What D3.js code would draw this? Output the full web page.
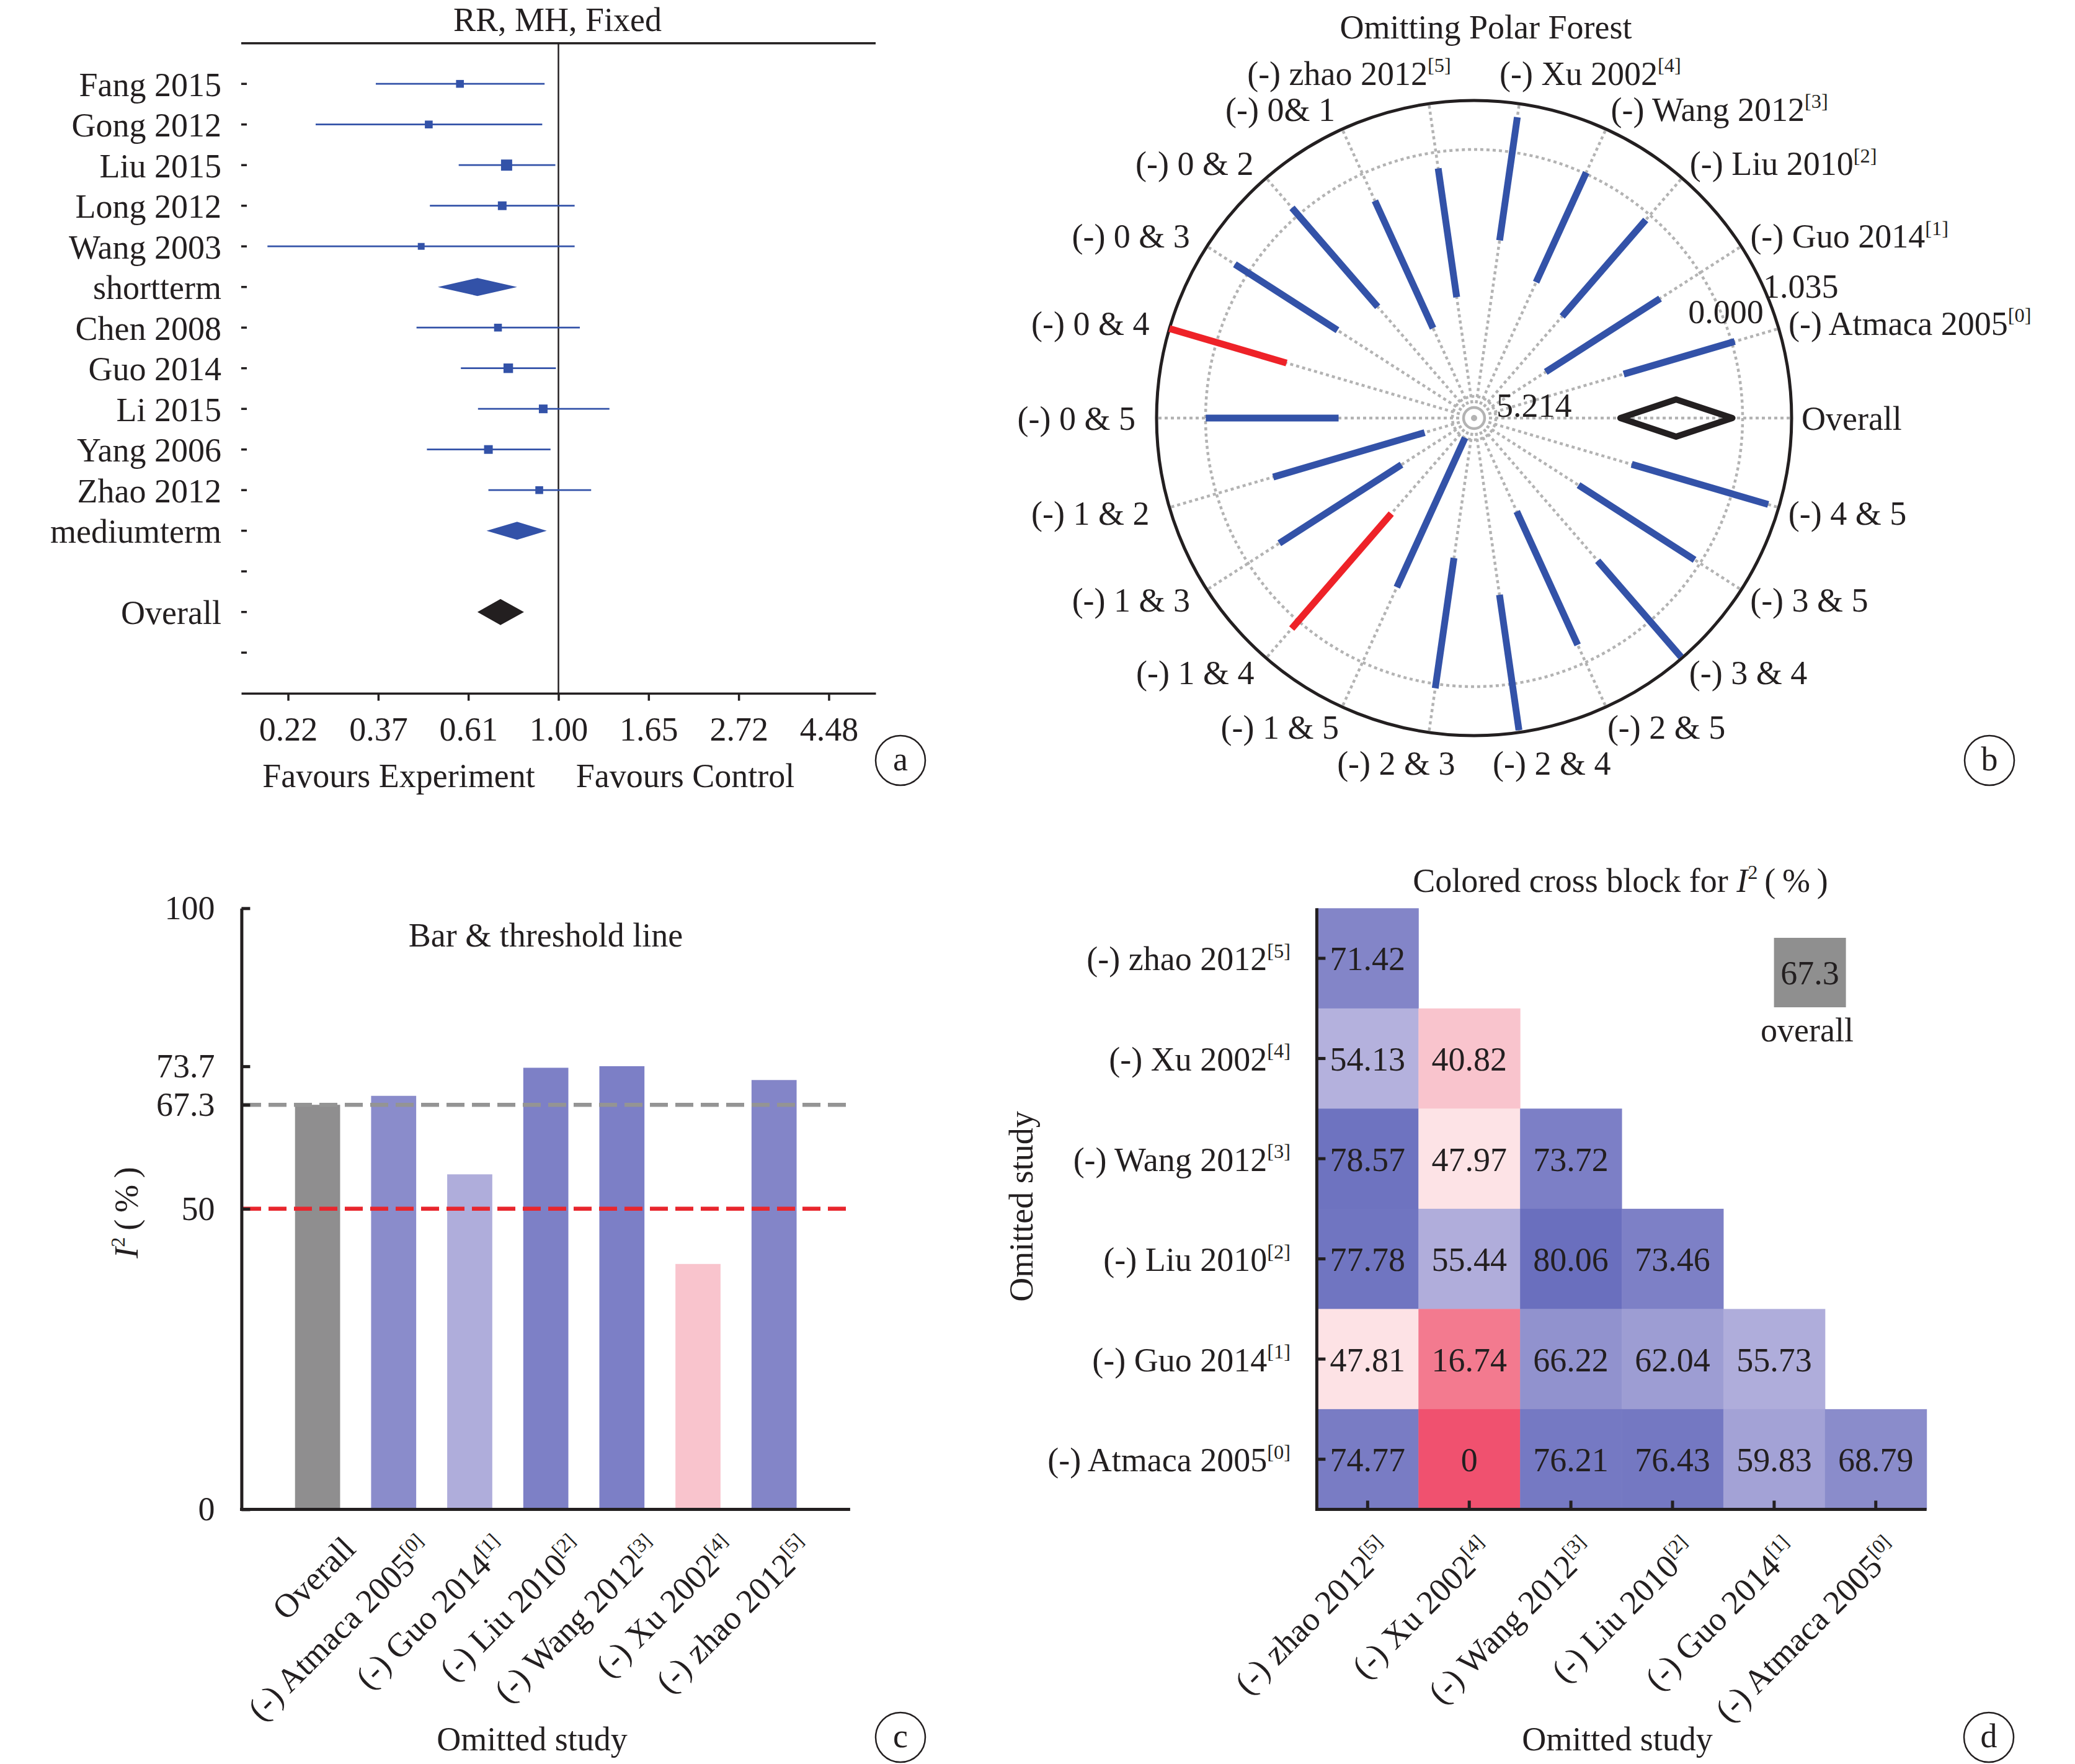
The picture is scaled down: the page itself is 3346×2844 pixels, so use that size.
<!DOCTYPE html>
<html>
<head>
<meta charset="utf-8">
<script src="https://cdn.jsdelivr.net/npm/d3@7"></script>
<style>
  body { margin: 0; background: #fff; }
  text { font-family: "Liberation Serif", "DejaVu Serif", serif; fill: #231f20; }
</style>
</head>
<body>
<svg id="chart"></svg>
<script>
var W = 3346, H = 2844;
var FS = 54;
var INK = '#231f20', BLUE = '#3352a8', RED = '#ee2228', GRID = '#b3b3b3';

// ---- panel a: forest plot
var forestLabels = ['Fang 2015', 'Gong 2012', 'Liu 2015', 'Long 2012', 'Wang 2003', 'shortterm',
  'Chen 2008', 'Guo 2014', 'Li 2015', 'Yang 2006', 'Zhao 2012', 'mediumterm', '', 'Overall', ''];
var forestType = ['s', 's', 's', 's', 's', 'sub', 's', 's', 's', 's', 's', 'sub', '', 'all', ''];
var forestEst = [0.579, 0.487, 0.750, 0.732, 0.467, 0.638, 0.715, 0.757, 0.919, 0.678, 0.899, 0.795, null, 0.725, null];
var forestLo  = [0.363, 0.260, 0.575, 0.490, 0.199, 0.512, 0.455, 0.582, 0.640, 0.482, 0.678, 0.671, null, 0.638, null];
var forestHi  = [0.926, 0.914, 0.983, 1.094, 1.094, 0.795, 1.126, 0.986, 1.327, 0.957, 1.199, 0.937, null, 0.826, null];
var forestWeight = [8.3, 8.3, 17.0, 10.3, 6.3, null, 8.3, 12.4, 10.3, 10.3, 8.3, null, null, null, null];
var forestTicks = [0.2231, 0.3679, 0.6065, 1, 1.6487, 2.7183, 4.4817];

// ---- panel b: polar forest (omitting one / two studies)
var polarNames = ['Overall', '(-) Atmaca 2005', '(-) Guo 2014', '(-) Liu 2010', '(-) Wang 2012', '(-) Xu 2002',
  '(-) zhao 2012', '(-) 0& 1', '(-) 0 & 2', '(-) 0 & 3', '(-) 0 & 4', '(-) 0 & 5', '(-) 1 & 2', '(-) 1 & 3',
  '(-) 1 & 4', '(-) 1 & 5', '(-) 2 & 3', '(-) 2 & 4', '(-) 2 & 5', '(-) 3 & 4', '(-) 3 & 5', '(-) 4 & 5'];
var polarSups = ['', '[0]', '[1]', '[2]', '[3]', '[4]', '[5]', '', '', '', '', '', '', '', '', '', '', '', '', '', '', ''];
var polarLo = [-2.583, -2.378, -3.873, -2.831, -2.519, -1.880, -3.093, -3.586, -2.563, -2.243, -1.543, -2.810,
  -4.584, -3.850, -3.001, -5.214, -2.686, -1.901, -3.503, -1.685, -3.050, -2.202];
var polarHi = [-0.216, 0.066, -1.002, -0.136, 0.029, 0.747, -0.345, -0.629, 0.201, 0.334, 1.035, -0.004,
  -1.250, -0.782, 0.210, -1.745, 0.093, 0.987, -0.405, 1.003, -0.135, 0.803];
var polarOverallMid = -1.405;
var polarRed = [10, 14];
var polarTicks = [-5.214, 0, 1.035];
var polarTickLabels = ['5.214', '0.000', '1.035'];

// ---- panel c: bars
var barNames = ['Overall', '(-) Atmaca 2005', '(-) Guo 2014', '(-) Liu 2010', '(-) Wang 2012', '(-) Xu 2002', '(-) zhao 2012'];
var barSups = ['', '[0]', '[1]', '[2]', '[3]', '[4]', '[5]'];
var barValues = [67.3, 68.79, 55.73, 73.46, 73.72, 40.82, 71.42];
var barTicks = [0, 50, 67.3, 73.7, 100];
var overallI2 = 67.3, thresholdI2 = 50;

// ---- panel d: cross block
var crossNames = ['(-) zhao 2012', '(-) Xu 2002', '(-) Wang 2012', '(-) Liu 2010', '(-) Guo 2014', '(-) Atmaca 2005'];
var crossSups = ['[5]', '[4]', '[3]', '[2]', '[1]', '[0]'];
var crossRows = [
  [71.42],
  [54.13, 40.82],
  [78.57, 47.97, 73.72],
  [77.78, 55.44, 80.06, 73.46],
  [47.81, 16.74, 66.22, 62.04, 55.73],
  [74.77, 0, 76.21, 76.43, 59.83, 68.79]
];

var heat = d3.scaleLinear()
  .domain([0, 16.74, 40.82, 48, 54, 80.06])
  .range(['#f0516f', '#f37a8f', '#f9c4cd', '#fde3e6', '#b4b1dd', '#6a6fbe']);

var svg = d3.select('#chart').attr('width', W).attr('height', H);
svg.append('rect').attr('width', W).attr('height', H).attr('fill', '#fff');

function label(g, main, sup) {
  g.append('tspan').text(main);
  if (sup) g.append('tspan').attr('font-size', FS * 0.6).attr('dy', -FS * 0.38).text(sup);
  return g;
}
function txt(x, y, s, anchor) {
  return svg.append('text').attr('x', x).attr('y', y).attr('font-size', FS)
    .attr('text-anchor', anchor || 'middle').text(s);
}
function hline(x1, x2, y, w) {
  svg.append('line').attr('x1', x1).attr('x2', x2).attr('y1', y).attr('y2', y)
    .attr('stroke', INK).attr('stroke-width', w);
}
function vline(x, y1, y2, w) {
  svg.append('line').attr('x1', x).attr('x2', x).attr('y1', y1).attr('y2', y2)
    .attr('stroke', INK).attr('stroke-width', w);
}
function badge(x, y, s) {
  svg.append('circle').attr('cx', x).attr('cy', y).attr('r', 40)
    .attr('fill', 'none').attr('stroke', INK).attr('stroke-width', 2.5);
  txt(x, y, s).attr('dy', '0.3em');
}
function I2(g) {
  g.append('tspan').attr('font-style', 'italic').text('I');
  g.append('tspan').attr('font-size', FS * 0.6).attr('dy', -FS * 0.38).text('2');
  g.append('tspan').attr('dy', FS * 0.38).text('\u2009(\u2009%\u2009)');
}

// ================= a
var fx = d3.scaleLog().domain([Math.exp(-1.76), Math.exp(1.76)]).range([389, 1412]);
var fy = d3.scalePoint().domain(d3.range(forestLabels.length)).range([69.7, 1117.7]).padding(1);

txt(899, 50, 'RR, MH, Fixed');
hline(389, 1412, 69.7, 3.5);
vline(fx(1), 69.7, 1117.7, 2.5);

var ax = svg.append('g').attr('transform', 'translate(0,1117.7)')
  .call(d3.axisBottom(fx).tickValues(forestTicks).tickFormat(function (d) { return d.toFixed(2); })
    .tickSizeInner(12).tickSizeOuter(0).tickPadding(26));
ax.attr('font-size', null).attr('font-family', null);
ax.select('.domain').attr('stroke', INK).attr('stroke-width', 3.5);
ax.selectAll('.tick line').attr('stroke', INK).attr('stroke-width', 3.5);
ax.selectAll('.tick text').attr('font-size', FS).attr('fill', INK);

forestLabels.forEach(function (name, i) {
  var y = fy(i);
  svg.append('line').attr('x1', 389).attr('x2', 398).attr('y1', y).attr('y2', y)
    .attr('stroke', INK).attr('stroke-width', 3.5);
  if (name) txt(357, y, name, 'end').attr('dy', '0.36em');
});

var boxSize = d3.scaleSqrt().domain([0, 17]).range([0, 18]);
forestLabels.forEach(function (name, i) {
  var y = fy(i), t = forestType[i];
  if (t === 's') {
    svg.append('line').attr('x1', fx(forestLo[i])).attr('x2', fx(forestHi[i]))
      .attr('y1', y).attr('y2', y).attr('stroke', BLUE).attr('stroke-width', 2.8);
    var s = boxSize(forestWeight[i]);
    svg.append('rect').attr('x', fx(forestEst[i]) - s / 2).attr('y', y - s / 2)
      .attr('width', s).attr('height', s).attr('fill', BLUE);
  } else if (t === 'sub' || t === 'all') {
    var h = t === 'sub' ? 14.5 : 21;
    var pts = [[fx(forestLo[i]), y], [fx(forestEst[i]), y - h], [fx(forestHi[i]), y], [fx(forestEst[i]), y + h]];
    svg.append('polygon').attr('points', pts.map(function (p) { return p.join(','); }).join(' '))
      .attr('fill', t === 'sub' ? BLUE : INK);
  }
});

txt(643, 1269, 'Favours Experiment');
txt(1105, 1269, 'Favours Control');
badge(1452, 1226, 'a');

// ================= b
var cx = 2377, cy = 674, R = 512;
var pr = d3.scaleLinear().domain([-5.214, 1.035]).range([35, R]);
var pa = d3.scaleLinear().domain([0, polarNames.length]).range([0, 2 * Math.PI]);
function P(r, a) { return [cx + r * Math.cos(a), cy - r * Math.sin(a)]; }

txt(2396, 62, 'Omitting Polar Forest');

var pg = svg.append('g');
polarNames.forEach(function (n, i) {
  var a = pa(i), p0 = P(24, a), p1 = P(R, a);
  pg.append('line').attr('x1', p0[0]).attr('y1', p0[1]).attr('x2', p1[0]).attr('y2', p1[1])
    .attr('stroke', GRID).attr('stroke-width', 4.5).attr('stroke-dasharray', '5 5');
});
[pr(0), pr(-5.214)].forEach(function (r) {
  pg.append('circle').attr('cx', cx).attr('cy', cy).attr('r', r).attr('fill', 'none')
    .attr('stroke', GRID).attr('stroke-width', 4.5).attr('stroke-dasharray', '5 5');
});
pg.append('circle').attr('cx', cx).attr('cy', cy).attr('r', 17).attr('fill', 'none')
  .attr('stroke', GRID).attr('stroke-width', 4.5);
pg.append('circle').attr('cx', cx).attr('cy', cy).attr('r', 5).attr('fill', GRID);
pg.append('circle').attr('cx', cx).attr('cy', cy).attr('r', R).attr('fill', 'none')
  .attr('stroke', INK).attr('stroke-width', 5);

polarNames.forEach(function (n, i) {
  if (i === 0) return;
  var a = pa(i), p0 = P(pr(polarLo[i]), a), p1 = P(pr(polarHi[i]), a);
  pg.append('line').attr('x1', p0[0]).attr('y1', p0[1]).attr('x2', p1[0]).attr('y2', p1[1])
    .attr('stroke', polarRed.indexOf(i) >= 0 ? RED : BLUE).attr('stroke-width', 11);
});
(function () {
  var lo = pr(polarLo[0]), hi = pr(polarHi[0]), m = pr(polarOverallMid), h = 30;
  var pts = [[cx + lo, cy], [cx + m, cy - h], [cx + hi, cy], [cx + m, cy + h]];
  pg.append('polygon').attr('points', pts.map(function (p) { return p.join(','); }).join(' '))
    .attr('fill', 'none').attr('stroke', INK).attr('stroke-width', 10).attr('stroke-linejoin', 'round');
})();

polarNames.forEach(function (n, i) {
  var a = pa(i), c = Math.cos(a), s = Math.sin(a);
  var rx = 537 - 9 * c, ry = 543 + 22 * Math.pow(Math.abs(s), 16);
  var t = svg.append('text').attr('font-size', FS).attr('text-anchor', 'start').attr('dy', '0.35em');
  label(t, n, polarSups[i]);
  var w = t.node().getComputedTextLength();
  var k = s > 0 ? 7 : 4;
  var f = 0.5 - 0.5 * Math.tanh(k * c);
  t.attr('x', cx + rx * c - f * w).attr('y', cy - ry * s);
});

var tickOff = [64, 8, 56], tickAng = [12, 23, 22];
polarTicks.forEach(function (v, i) {
  var p = P(pr(v) + tickOff[i], tickAng[i] * Math.PI / 180);
  txt(p[0], p[1], polarTickLabels[i]).attr('dy', '0.35em');
});
badge(3208, 1226, 'b');

// ================= c
var bx = d3.scalePoint().domain(barNames).range([389.4, 1370.9]).padding(1);
var by = d3.scaleLinear().domain([0, 100]).range([2433.4, 1464.3]);
var bw = 72.7;

txt(880, 1526, 'Bar & threshold line');
svg.selectAll('rect.bar').data(barNames).enter().append('rect').attr('class', 'bar')
  .attr('x', function (d) { return bx(d) - bw / 2; })
  .attr('y', function (d, i) { return by(barValues[i]); })
  .attr('width', bw)
  .attr('height', function (d, i) { return by(0) - by(barValues[i]); })
  .attr('fill', function (d, i) { return i === 0 ? '#8f8e8f' : heat(barValues[i]); });

[[overallI2, '#949494'], [thresholdI2, '#e8262d']].forEach(function (l) {
  svg.append('line').attr('x1', 392).attr('x2', 1371).attr('y1', by(l[0])).attr('y2', by(l[0]))
    .attr('stroke', l[1]).attr('stroke-width', 6.5).attr('stroke-dasharray', '29 12');
});

var cyAxis = svg.append('g').attr('transform', 'translate(389.4,0)')
  .call(d3.axisLeft(by).tickValues(barTicks).tickFormat(function (d) { return String(d); })
    .tickSizeInner(-14).tickSizeOuter(0).tickPadding(43));
cyAxis.attr('font-size', null).attr('font-family', null);
cyAxis.select('.domain').attr('stroke', INK).attr('stroke-width', 5);
cyAxis.selectAll('.tick line').attr('stroke', INK).attr('stroke-width', 5);
cyAxis.selectAll('.tick text').attr('font-size', FS).attr('fill', INK);
hline(387, 1370.9, 2433.4, 5);

barNames.forEach(function (n, i) {
  var t = svg.append('text').attr('font-size', FS).attr('text-anchor', 'end')
    .attr('transform', 'translate(' + (bx(n) + 64) + ',2500) rotate(-45)');
  label(t, n, barSups[i]);
});
var yt = svg.append('text').attr('font-size', FS).attr('text-anchor', 'middle')
  .attr('transform', 'translate(222,1955) rotate(-90)');
I2(yt);
txt(858, 2822, 'Omitted study');
badge(1452, 2801, 'c');

// ================= d
var dx = d3.scaleBand().domain(d3.range(6)).range([2123.4, 3106.7]);
var dy = d3.scaleBand().domain(d3.range(6)).range([1464.3, 2433.4]);

var dt = svg.append('text').attr('font-size', FS).attr('text-anchor', 'middle')
  .attr('x', 2613).attr('y', 1438);
dt.append('tspan').text('Colored cross block for ');
I2(dt);

crossRows.forEach(function (row, r) {
  row.forEach(function (v, c) {
    svg.append('rect').attr('x', dx(c)).attr('y', dy(r))
      .attr('width', dx.bandwidth() + 0.5).attr('height', dy.bandwidth() + 0.5)
      .attr('fill', heat(v));
    txt(dx(c) + dx.bandwidth() / 2, dy(r) + dy.bandwidth() / 2, v === 0 ? '0' : v.toFixed(2))
      .attr('dy', '0.36em');
  });
});

vline(2123.4, 1464.3, 2435.9, 5);
hline(2123.4, 3106.7, 2433.4, 5);
crossNames.forEach(function (n, i) {
  var yc = dy(i) + dy.bandwidth() / 2, xc = dx(i) + dx.bandwidth() / 2;
  svg.append('line').attr('x1', 2123.4).attr('x2', 2137.4).attr('y1', yc).attr('y2', yc)
    .attr('stroke', INK).attr('stroke-width', 5);
  svg.append('line').attr('x1', xc).attr('x2', xc).attr('y1', 2433.4).attr('y2', 2419.4)
    .attr('stroke', INK).attr('stroke-width', 5);
  var t = svg.append('text').attr('font-size', FS).attr('text-anchor', 'end')
    .attr('x', 2081).attr('y', yc).attr('dy', '0.36em');
  label(t, n, crossSups[i]);
  var t2 = svg.append('text').attr('font-size', FS).attr('text-anchor', 'end')
    .attr('transform', 'translate(' + (xc + 40) + ',2502) rotate(-45)');
  label(t2, n, crossSups[i]);
});

svg.append('rect').attr('x', 2860.6).attr('y', 1512).attr('width', 116).attr('height', 112).attr('fill', '#8f8f8f');
txt(2918.6, 1568, overallI2.toFixed(1)).attr('dy', '0.36em');
txt(2914, 1679, 'overall');

svg.append('text').attr('font-size', FS).attr('text-anchor', 'middle')
  .attr('transform', 'translate(1665,1945) rotate(-90)').text('Omitted study');
txt(2608, 2822, 'Omitted study');
badge(3207, 2801, 'd');
</script>
</body>
</html>
